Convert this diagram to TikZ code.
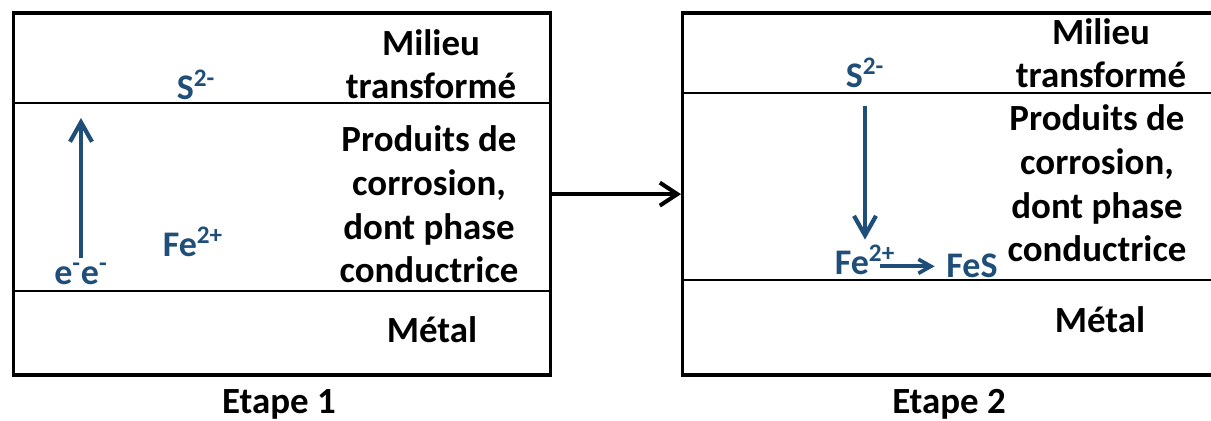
\documentclass[tikz,border=0pt]{standalone}
\usepackage{fontspec}
\setmainfont{Carlito}
\usetikzlibrary{arrows.meta}
\definecolor{ionblue}{HTML}{1F4E79}
\tikzset{
  stagebox/.style={draw=black,line width=1.9pt,inner sep=0pt,anchor=north west},
  layer/.style={draw=black,line width=1.1pt},
  layertext/.style={font=\bfseries\fontsize{21}{25}\selectfont,align=center,anchor=base},
  ion/.style={text=ionblue,font=\bfseries\fontsize{20.5}{24}\selectfont,anchor=base,inner sep=0pt},
  flow/.style={draw=ionblue,line width=2.4pt,-{Straight Barb[length=3.9mm,width=4.4mm]}},
  small flow/.style={draw=ionblue,line width=2.1pt,-{Straight Barb[length=2.5mm,width=2.8mm]}},
  passage/.style={draw=black,line width=2.3pt,-{Straight Barb[length=3.5mm,width=4.6mm]}}
}
\begin{document}
\begin{tikzpicture}[x=0.02cm,y=-0.02cm]
  \useasboundingbox (0,0) rectangle (1211,421);
  \node[stagebox,minimum width=10.75cm,minimum height=7.24cm] (etape1box) at (11.5,11.5) {};
  \node[stagebox,minimum width=10.64cm,minimum height=7.24cm] (etape2box) at (681,11.5) {};
  \foreach \y in {103,291} \draw[layer] (11.5,\y) -- (549,\y);
  \foreach \y in {93,280} \draw[layer] (681,\y) -- (1213,\y);
  \draw[passage] (etape1box.east) -- (etape2box.west);

  \node[layertext] (milieu1) at (431,99) {Milieu\\transformé};
  \node[layertext] (produits1) at (429,283) {Produits de\\corrosion,\\dont phase\\conductrice};
  \node[layertext] (metal1) at (432,343) {Métal};
  \node[layertext] (etape1) at (279,414) {Etape 1};
  \node[layertext] (milieu2) at (1101,88) {Milieu\\transformé};
  \node[layertext] (produits2) at (1097,262) {Produits de\\corrosion,\\dont phase\\conductrice};
  \node[layertext] (metal2) at (1100,333) {Métal};
  \node[layertext] (etape2) at (949,414) {Etape 2};

  \node[ion] (s2a) at (196,100) {S\textsuperscript{2-}};
  \node[ion] (fe2a) at (193,257) {Fe\textsuperscript{2+}};
  \node[ion] (ee) at (81,285) {e\textsuperscript{-}e\textsuperscript{-}};
  \coordinate (eetop) at (80,118);
  \draw[flow,shorten <=3pt] (ee.north) -- (ee.north |- eetop);

  \node[ion] (s2b) at (865,88) {S\textsuperscript{2-}};
  \node[ion] (fe2b) at (865,275) {Fe\textsuperscript{2+}};
  \node[ion] (fes) at (972,278) {FeS};
  \draw[flow,shorten <=10pt,shorten >=3pt] (s2b.south) -- (fe2b.north);
  \draw[small flow,shorten <=-9pt,shorten >=6.5pt] (fe2b.east |- fes.west) -- (fes.west);
\end{tikzpicture}
\end{document}
